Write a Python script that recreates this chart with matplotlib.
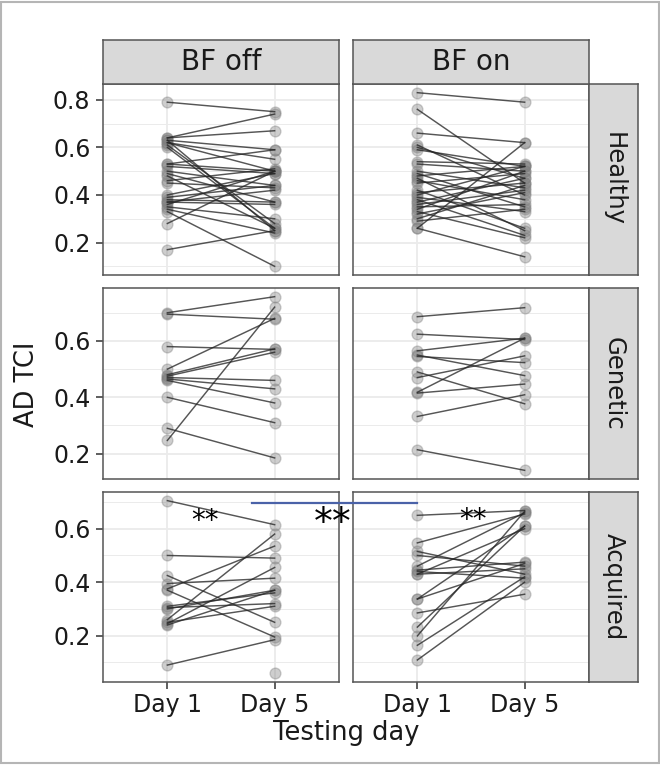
import numpy as np
import matplotlib.pyplot as plt
from matplotlib.patches import Rectangle
from matplotlib.lines import Line2D
from matplotlib.ticker import MultipleLocator

plt.rcParams['font.family'] = 'DejaVu Sans'

'''Facet labels'''
days = ['Day 1', 'Day 5']
conditions = ['BF off', 'BF on']
groups = ['Healthy', 'Genetic', 'Acquired']

'''AD TCI per subject (Day 1, Day 5), read off the figure'''
healthy_off_d1 = [0.79, 0.64, 0.64, 0.63, 0.62, 0.62, 0.61, 0.63, 0.60, 0.53, 0.53, 0.52, 0.50, 0.49,
                  0.48, 0.46, 0.45, 0.40, 0.39, 0.38, 0.37, 0.36, 0.35, 0.34, 0.33, 0.28, 0.17, 0.37]
healthy_off_d5 = [0.75, 0.74, 0.67, 0.59, 0.55, 0.50, 0.28, 0.25, 0.26, 0.59, 0.50, 0.49, 0.44, 0.37,
                  0.26, 0.51, 0.43, 0.49, 0.44, 0.37, 0.36, 0.50, 0.30, 0.24, 0.10, 0.50, 0.25, 0.42]

healthy_on_d1 = [0.83, 0.76, 0.66, 0.61, 0.60, 0.59, 0.54, 0.53, 0.50, 0.49, 0.48, 0.47, 0.46, 0.45, 0.41,
                 0.40, 0.39, 0.38, 0.37, 0.36, 0.35, 0.34, 0.33, 0.32, 0.30, 0.29, 0.26, 0.26, 0.42]
healthy_on_d5 = [0.79, 0.45, 0.62, 0.40, 0.47, 0.52, 0.53, 0.50, 0.43, 0.35, 0.52, 0.25, 0.38, 0.49, 0.45,
                 0.52, 0.33, 0.23, 0.47, 0.42, 0.36, 0.50, 0.22, 0.41, 0.44, 0.34, 0.62, 0.14, 0.26]

genetic_off_d1 = [0.70, 0.695, 0.58, 0.50, 0.475, 0.47, 0.465, 0.46, 0.48, 0.40, 0.29, 0.247]
genetic_off_d5 = [0.757, 0.677, 0.57, 0.68, 0.56, 0.46, 0.43, 0.38, 0.572, 0.31, 0.185, 0.72]

genetic_on_d1 = [0.686, 0.624, 0.565, 0.55, 0.545, 0.49, 0.47, 0.418, 0.415, 0.332, 0.214]
genetic_on_d5 = [0.718, 0.605, 0.61, 0.477, 0.523, 0.377, 0.547, 0.61, 0.447, 0.409, 0.141]

acquired_off_d1 = [0.705, 0.50, 0.425, 0.395, 0.375, 0.37, 0.31, 0.305, 0.30, 0.26, 0.245, 0.25,
                   0.24, 0.09, np.nan]
acquired_off_d5 = [0.615, 0.49, 0.25, 0.415, 0.535, 0.195, 0.36, 0.32, 0.37, 0.58, 0.455, 0.31,
                   0.37, 0.185, 0.059]

acquired_on_d1 = [0.65, 0.547, 0.515, 0.50, 0.46, 0.445, 0.43, 0.44, 0.337, 0.337, 0.285, 0.232,
                  0.199, 0.164, 0.109, 0.43]
acquired_on_d5 = [0.668, 0.655, 0.43, 0.46, 0.66, 0.475, 0.60, 0.415, 0.61, 0.47, 0.355, 0.61,
                  0.665, 0.42, 0.40, 0.45]

data = {
    ('Healthy', 'BF off'): (healthy_off_d1, healthy_off_d5),
    ('Healthy', 'BF on'): (healthy_on_d1, healthy_on_d5),
    ('Genetic', 'BF off'): (genetic_off_d1, genetic_off_d5),
    ('Genetic', 'BF on'): (genetic_on_d1, genetic_on_d5),
    ('Acquired', 'BF off'): (acquired_off_d1, acquired_off_d5),
    ('Acquired', 'BF on'): (acquired_on_d1, acquired_on_d5),
}

'''Layout in pixels'''
W, H = 660, 765
col_x = [(103, 339), (353, 589)]
row_y = [(84, 275), (288, 479), (492, 682)]
strip_top = (40, 84)
strip_right = (589, 638)

fig = plt.figure(figsize=(W / 100, H / 100), dpi=100)


def px_axes(x0, y0, x1, y1):
    return fig.add_axes([x0 / W, 1 - y1 / H, (x1 - x0) / W, (y1 - y0) / H])


def style_box(ax, face):
    ax.set_facecolor(face)
    for s in ax.spines.values():
        s.set_color('#555555')
        s.set_linewidth(1.1)


xpos = np.arange(1, len(days) + 1)
axes = {}

for r, g in enumerate(groups):
    vals = np.concatenate([np.array(data[(g, c)][k], dtype=float) for c in conditions for k in (0, 1)])
    lo, hi = np.nanmin(vals), np.nanmax(vals)
    pad = 0.05 * (hi - lo)
    for c_i, c in enumerate(conditions):
        x0, x1 = col_x[c_i]
        y0, y1 = row_y[r]
        ax = px_axes(x0, y0, x1, y1)
        style_box(ax, 'white')
        d1, d5 = data[(g, c)]
        d1 = np.array(d1, dtype=float)
        d5 = np.array(d5, dtype=float)
        # points
        ax.scatter(np.full(len(d1), xpos[0]), d1, s=60, color='#7f7f7f', alpha=0.38, lw=1, zorder=2)
        ax.scatter(np.full(len(d5), xpos[1]), d5, s=60, color='#7f7f7f', alpha=0.38, lw=1, zorder=2)
        # paired lines
        for a, b in zip(d1, d5):
            ax.plot(xpos, [a, b], color='#262626', alpha=0.78, lw=1.05, zorder=3)
        ax.set_xlim(0.4, 2.6)
        ax.set_ylim(lo - pad, hi + pad)
        ax.set_xticks(xpos)
        ax.yaxis.set_major_locator(MultipleLocator(0.2))
        ax.yaxis.set_minor_locator(MultipleLocator(0.1))
        ax.grid(which='major', color='#ebebeb', lw=1.3)
        ax.grid(which='minor', axis='y', color='#ebebeb', lw=0.7)
        ax.set_axisbelow(True)
        ax.tick_params(which='minor', length=0)
        ax.tick_params(which='major', length=5, width=1.1, color='#333333', labelsize=17,
                       labelcolor='#1a1a1a')
        ax.tick_params(axis='y', pad=4)
        ax.tick_params(axis='x', pad=3)
        if c_i == 0:
            ax.set_yticklabels([f'{t:.1f}' for t in ax.get_yticks()])
        else:
            ax.tick_params(axis='y', length=0, labelleft=False)
        if r == len(groups) - 1:
            ax.set_xticklabels(days)
        else:
            ax.tick_params(axis='x', length=0, labelbottom=False)
        axes[(r, c_i)] = ax

    # right strip
    sa = px_axes(strip_right[0], row_y[r][0], strip_right[1], row_y[r][1])
    style_box(sa, '#d9d9d9')
    sa.set_xticks([])
    sa.set_yticks([])
    sa.text(0.5, 0.5, g, rotation=-90, ha='center', va='center', fontsize=17.5,
            color='#1a1a1a', transform=sa.transAxes)

for c_i, c in enumerate(conditions):
    sa = px_axes(col_x[c_i][0], strip_top[0], col_x[c_i][1], strip_top[1])
    style_box(sa, '#d9d9d9')
    sa.set_xticks([])
    sa.set_yticks([])
    sa.text(0.5, 0.5, c, ha='center', va='center', fontsize=20, color='#1a1a1a',
            transform=sa.transAxes)

'''Axis titles'''
fig.text(27 / W, 1 - 384 / H, 'AD TCI', rotation=90, ha='center', va='center', fontsize=18.5,
         color='#1a1a1a')
fig.text(346 / W, 1 - 733 / H, 'Testing day', ha='center', va='center', fontsize=18.5,
         color='#1a1a1a')

'''Significance markers'''
ax_l = axes[(2, 0)]
ax_r = axes[(2, 1)]
bar_y = 0.695
p_start = ax_l.transData.transform((1.79, bar_y))
p_end = ax_r.transData.transform((1.0, bar_y))
fig.add_artist(Line2D([p_start[0] / W, p_end[0] / W], [p_start[1] / H, p_end[1] / H],
                      transform=fig.transFigure, color='#4a62a8', lw=1.6))
ax_l.text(1.35, 0.628, '**', ha='center', va='center', fontsize=20, color='black')
ax_r.text(1.52, 0.633, '**', ha='center', va='center', fontsize=20, color='black')
fig.text(333 / W, 1 - 524 / H, '**', ha='center', va='center', fontsize=27, color='black')

'''Outer frame'''
fig.add_artist(Rectangle((0.002, 0.002), 0.996, 0.996, transform=fig.transFigure,
                         fill=False, edgecolor='#b5b5b5', lw=1.5))

plt.savefig('out.png', dpi=100)
